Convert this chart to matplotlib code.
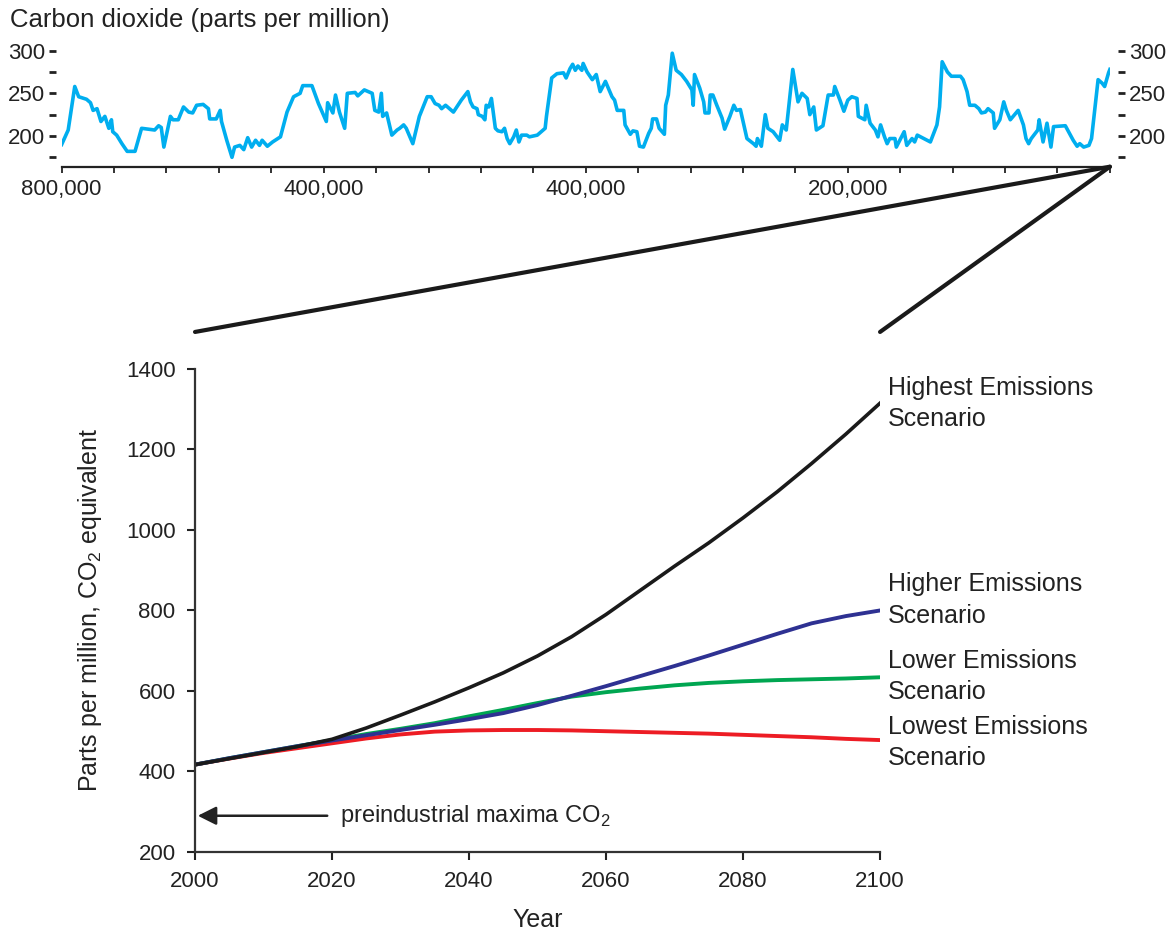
import matplotlib.pyplot as plt
import matplotlib.transforms as mtransforms
from matplotlib.patches import ConnectionPatch

plt.rcParams['font.family'] = ['Liberation Sans', 'DejaVu Sans']
plt.rcParams['text.color'] = '#222222'
plt.rcParams['axes.labelcolor'] = '#222222'
plt.rcParams['xtick.color'] = '#222222'
plt.rcParams['ytick.color'] = '#222222'
plt.rcParams['mathtext.fontset'] = 'custom'
plt.rcParams['mathtext.rm'] = 'Liberation Sans'

## ice core CO2, thousands of years before present
age_kyr = [800, 795, 790, 787, 781, 778, 776, 773, 770, 767, 764, 762, 761, 758,
           754, 750, 744, 739, 729, 726, 724, 722, 717, 715, 711, 707, 703, 700,
           697, 692, 688, 687, 682, 679, 678, 674, 670, 668, 664, 661, 658, 655,
           652, 649, 647, 643, 639, 633, 628, 623, 618, 616, 609, 604, 598, 597,
           593, 591, 588, 584, 582, 576, 574, 569, 563, 561, 558, 556, 555, 552,
           548, 544, 542, 539, 537, 532, 527, 521, 518, 515, 512, 510, 507, 501,
           495, 490, 488, 486, 483, 482, 479, 477, 476, 474, 472, 469, 467, 464,
           462, 460, 458, 455, 453, 451, 449, 445, 443, 437, 434, 431, 430, 426,
           422, 417, 415, 412, 410, 408, 406, 403, 402, 399, 395, 392, 389, 385,
           380, 378, 376, 371, 370, 366, 364, 361, 359, 356, 352, 350, 349, 346,
           344, 340, 339, 337, 336, 334, 331, 327, 323, 319, 318, 317, 313, 310,
           309, 306, 305, 303, 300, 296, 294, 290, 287, 285, 282, 277, 272, 270,
           269, 266, 263, 261, 257, 252, 250, 247, 242, 238, 235, 231, 229, 226,
           224, 219, 215, 211, 210, 206, 203, 200, 197, 193, 192, 187, 186, 183,
           179, 177, 175, 172, 170, 168, 164, 163, 160, 157, 155, 151, 149, 147,
           142, 137, 132, 130, 128, 124, 121, 114, 112, 109, 107, 103, 100, 98,
           95, 93, 89, 88, 84, 81, 79, 76, 70, 66, 64, 62, 60, 55, 54, 51, 48,
           45, 43, 34, 28, 25, 23, 20, 16, 14, 9, 6, 4, 1, 0]
co2_ice = [190, 207, 258, 246, 243, 239, 230, 232, 217, 223, 209, 219, 205, 201,
           191, 182, 182, 209, 207, 212, 210, 187, 223, 219, 219, 234, 228, 227,
           236, 237, 232, 220, 220, 230, 217, 195, 175, 187, 189, 184, 198, 187,
           195, 189, 195, 188, 193, 199, 228, 246, 250, 259, 259, 238, 217, 239,
           227, 248, 228, 209, 250, 251, 247, 254, 250, 230, 228, 250, 223, 227,
           201, 207, 209, 213, 209, 191, 223, 246, 246, 238, 236, 232, 236, 228,
           242, 252, 240, 234, 232, 225, 223, 219, 236, 234, 244, 209, 206, 205,
           209, 197, 191, 199, 207, 193, 201, 201, 199, 201, 205, 209, 223, 268,
           273, 274, 268, 279, 284, 277, 282, 277, 285, 275, 266, 272, 252, 264,
           246, 242, 230, 230, 213, 202, 206, 205, 188, 187, 203, 209, 220, 220,
           209, 202, 236, 248, 264, 297, 277, 272, 264, 254, 236, 272, 256, 240,
           227, 227, 248, 248, 236, 221, 208, 223, 236, 230, 231, 197, 191, 188,
           197, 188, 225, 209, 205, 195, 213, 207, 278, 240, 250, 244, 225, 234,
           207, 212, 248, 248, 258, 242, 229, 242, 246, 244, 223, 219, 236, 215,
           207, 199, 213, 199, 191, 197, 197, 187, 196, 205, 189, 197, 193, 201,
           197, 193, 213, 234, 287, 275, 270, 270, 266, 252, 236, 236, 232, 227,
           228, 232, 227, 209, 219, 240, 230, 219, 230, 213, 197, 191, 197, 207,
           219, 193, 215, 187, 211, 212, 195, 188, 191, 187, 189, 197, 266, 262,
           258, 274, 278]
age_ticks = [800, 600, 400, 200]
age_labels = ['800,000', '400,000', '400,000', '200,000']

## projected concentrations by scenario
years = [2000, 2005, 2010, 2015, 2020, 2025, 2030, 2035, 2040, 2045, 2050,
         2055, 2060, 2065, 2070, 2075, 2080, 2085, 2090, 2095, 2100]
highest = [417, 432, 447, 462, 480, 508, 540, 573, 608, 645, 687,
           735, 790, 850, 910, 968, 1030, 1095, 1165, 1238, 1315]
higher = [417, 433, 448, 463, 477, 490, 503, 516, 530, 545, 565,
          588, 612, 637, 662, 688, 715, 742, 768, 786, 800]
lower = [417, 433, 448, 463, 478, 493, 506, 520, 537, 553, 570,
         586, 597, 606, 614, 620, 624, 627, 629, 631, 634]
lowest = [417, 432, 446, 458, 470, 482, 492, 499, 502, 503, 503,
          502, 500, 498, 496, 494, 491, 488, 485, 481, 478]
scenario_names = ['Highest Emissions\nScenario', 'Higher Emissions\nScenario',
                  'Lower Emissions\nScenario', 'Lowest Emissions\nScenario']
label_y = [1315, 826, 635, 471]
preindustrial = 290

fig = plt.figure(figsize=(11.72, 9.35), dpi=100)

# top strip: 800,000 years of CO2
ax1 = fig.add_axes([0.0526, 0.8217, 0.8944, 0.1287])
ax1.plot(age_kyr, co2_ice, color='#00aeef', lw=2.6, solid_joinstyle='round')
ax1.set_xlim(800, 0)
ax1.set_ylim(164, 305)
ax1.set_xticks(age_ticks)
ax1.set_xticklabels(age_labels)
ax1.set_xticks(range(0, 801, 40), minor=True)
ax1.set_yticks([175, 200, 225, 250, 275, 300])
ax1.set_yticklabels(['', '200', '', '250', '', '300'])
for s in ['top', 'left', 'right']:
    ax1.spines[s].set_visible(False)
ax1.spines['left'].set_position(('outward', 4))
ax1.spines['right'].set_position(('outward', 6))
ax1.spines['bottom'].set_linewidth(1.6)
ax1.spines['bottom'].set_color('#222222')
ax1.yaxis.set_ticks_position('both')
ax1.tick_params(axis='y', which='both', direction='out', length=5, width=2,
                labelsize=16, pad=3, labelright=True)
ax1.tick_params(axis='x', which='both', direction='out', length=4, width=1.3,
                labelsize=16, pad=5)
fig.text(10 / 1172, 1 - 20 / 935, 'Carbon dioxide (parts per million)',
         fontsize=18.5, va='center', ha='left')

# bottom panel: projections to 2100
ax = fig.add_axes([0.1664, 0.0888, 0.5845, 0.5166])
ax.plot(years, lowest, color='#ed1c24', lw=2.8)
ax.plot(years, lower, color='#00a651', lw=2.8)
ax.plot(years, higher, color='#2e3192', lw=2.8)
ax.plot(years, highest, color='#1a1a1a', lw=2.6)
ax.set_xlim(2000, 2100)
ax.set_ylim(200, 1400)
ax.set_xticks(range(2000, 2101, 20))
ax.set_yticks(range(200, 1401, 200))
for s in ['top', 'right']:
    ax.spines[s].set_visible(False)
for s in ['left', 'bottom']:
    ax.spines[s].set_linewidth(1.6)
    ax.spines[s].set_color('#333333')
ax.tick_params(direction='out', length=6, width=1.5, labelsize=16, pad=8)
ax.set_xlabel('Year', fontsize=18, labelpad=11)
ax.set_ylabel('Parts per million, CO$_2$ equivalent', fontsize=18, labelpad=16)

for name, yv in zip(scenario_names, label_y):
    ax.text(2101.2, yv, name, fontsize=18, va='center', ha='left',
            linespacing=1.38, clip_on=False)

ax.annotate('', xy=(2000.4, preindustrial), xytext=(2019.3, preindustrial),
            arrowprops=dict(arrowstyle='-|>', color='#222222', lw=1.8,
                            mutation_scale=28, shrinkA=0, shrinkB=0))
ax.text(2021.2, preindustrial, 'preindustrial maxima CO$_2$', fontsize=17,
        va='center', ha='left')

# lines tying the present end of the strip to the projection panel
blend = mtransforms.blended_transform_factory(ax.transData, ax.transAxes)
for yr in [2000, 2100]:
    con = ConnectionPatch(xyA=(0, 164), coordsA=ax1.transData,
                          xyB=(yr, 1.0766), coordsB=blend,
                          color='#1a1a1a', lw=3)
    fig.add_artist(con)

fig.savefig('out.png', dpi=100)
